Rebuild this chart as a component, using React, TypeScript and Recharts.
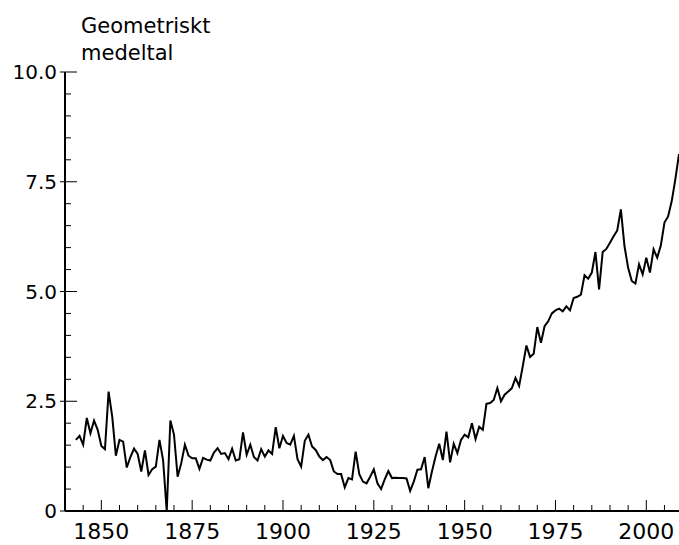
import React from "react";
import { LineChart, Line, XAxis, YAxis } from "recharts";

const FIRST_YEAR = 1843;

// geometriskt medeltal per år, 1843–2009
const values = [
  1.62, 1.71, 1.51, 2.12, 1.77, 2.06, 1.85,
  1.48, 1.41, 2.72, 2.15, 1.26, 1.62, 1.58, 0.99, 1.23, 1.42,
  1.3, 0.9, 1.38, 0.82, 0.95, 1.01, 1.62, 1.16, 0.0, 2.06,
  1.74, 0.78, 1.09, 1.51, 1.26, 1.2, 1.2, 0.96, 1.21, 1.17,
  1.15, 1.33, 1.43, 1.3, 1.32, 1.18, 1.42, 1.15, 1.18, 1.79,
  1.28, 1.51, 1.23, 1.15, 1.41, 1.24, 1.38, 1.3, 1.91, 1.43,
  1.71, 1.55, 1.51, 1.71, 1.18, 1.01, 1.6, 1.74, 1.47, 1.39,
  1.24, 1.16, 1.23, 1.16, 0.9, 0.84, 0.84, 0.54, 0.75, 0.72,
  1.35, 0.84, 0.67, 0.63, 0.78, 0.95, 0.63, 0.5, 0.72, 0.91,
  0.75, 0.76, 0.75, 0.75, 0.74, 0.46, 0.67, 0.94, 0.95, 1.23,
  0.52, 0.9, 1.24, 1.53, 1.16, 1.81, 1.11, 1.53, 1.32, 1.62,
  1.74, 1.68, 2.0, 1.64, 1.92, 1.85, 2.44, 2.46, 2.53, 2.8,
  2.5, 2.65, 2.72, 2.8, 3.03, 2.85, 3.3, 3.77, 3.51, 3.58,
  4.19, 3.83, 4.21, 4.32, 4.5, 4.57, 4.61, 4.55, 4.66, 4.57,
  4.85, 4.88, 4.93, 5.37, 5.29, 5.43, 5.9, 5.05, 5.9, 5.97,
  6.11, 6.26, 6.39, 6.87, 6.03, 5.54, 5.24, 5.18, 5.62, 5.39,
  5.77, 5.43, 5.96, 5.77, 6.05, 6.57, 6.71, 7.06, 7.56, 8.13,
];

const years = values.map((_, i) => FIRST_YEAR + i);

const xTicks = [
  1840, 1845, 1850, 1855, 1860, 1865, 1870, 1875, 1880, 1885, 1890, 1895,
  1900, 1905, 1910, 1915, 1920, 1925, 1930, 1935, 1940, 1945, 1950, 1955,
  1960, 1965, 1970, 1975, 1980, 1985, 1990, 1995, 2000, 2005,
];
const xLabels = [1850, 1875, 1900, 1925, 1950, 1975, 2000];

const yTicks = [
  0, 0.5, 1, 1.5, 2, 2.5, 3, 3.5, 4, 4.5, 5, 5.5, 6, 6.5, 7, 7.5, 8, 8.5,
  9, 9.5, 10,
];
const yLabels: Record<string, string> = {
  "0": "0",
  "2.5": "2.5",
  "5": "5.0",
  "7.5": "7.5",
  "10": "10.0",
};

const data = years.map((year, i) => ({ year, value: values[i] }));

const FONT = "'DejaVu Sans', sans-serif";

function XTick(props: any) {
  const { x, y, payload } = props;
  const major = xLabels.includes(payload.value);
  return (
    <g>
      <line x1={x} x2={x} y1={y} y2={y - (major ? 11 : 6)} stroke="#000" strokeWidth={1} />
      {major && (
        <text x={x} y={y + 28} textAnchor="middle" fontSize={22} fontFamily={FONT} fill="#000">
          {payload.value}
        </text>
      )}
    </g>
  );
}

function YTick(props: any) {
  const { x, y, payload } = props;
  const label = yLabels[String(payload.value)];
  return (
    <g>
      <line x1={label ? x - 5 : x} x2={x + (label ? 12 : 6)} y1={y} y2={y} stroke="#000" strokeWidth={1} />
      {label && (
        <text x={x - 8} y={y + 7} textAnchor="end" fontSize={20} fontFamily={FONT} fill="#000">
          {label}
        </text>
      )}
    </g>
  );
}

export default function App() {
  return (
    <div style={{ position: "absolute", left: 0, top: 0, width: 679, height: 545, background: "#fff" }}>
      <div
        style={{
          position: "absolute",
          left: 81,
          top: 13,
          fontFamily: FONT,
          fontSize: 21,
          lineHeight: "27px",
          color: "#000",
        }}
      >
        Geometriskt
        <br />
        medeltal
      </div>
      <LineChart width={679} height={545} data={data} margin={{ top: 72, right: 0, bottom: 0, left: 0 }}>
        <XAxis
          dataKey="year"
          type="number"
          domain={[1840, 2009]}
          ticks={xTicks}
          tick={<XTick />}
          tickSize={0}
          tickMargin={0}
          tickLine={false}
          height={34}
          interval={0}
          axisLine={{ stroke: "#000", strokeWidth: 2 }}
          allowDataOverflow
        />
        <YAxis
          type="number"
          domain={[0, 10]}
          ticks={yTicks}
          tick={<YTick />}
          tickSize={0}
          tickMargin={0}
          tickLine={false}
          width={65}
          interval={0}
          axisLine={{ stroke: "#000", strokeWidth: 2 }}
        />
        <Line
          dataKey="value"
          type="linear"
          stroke="#000"
          strokeWidth={2}
          dot={false}
          isAnimationActive={false}
        />
      </LineChart>
    </div>
  );
}
